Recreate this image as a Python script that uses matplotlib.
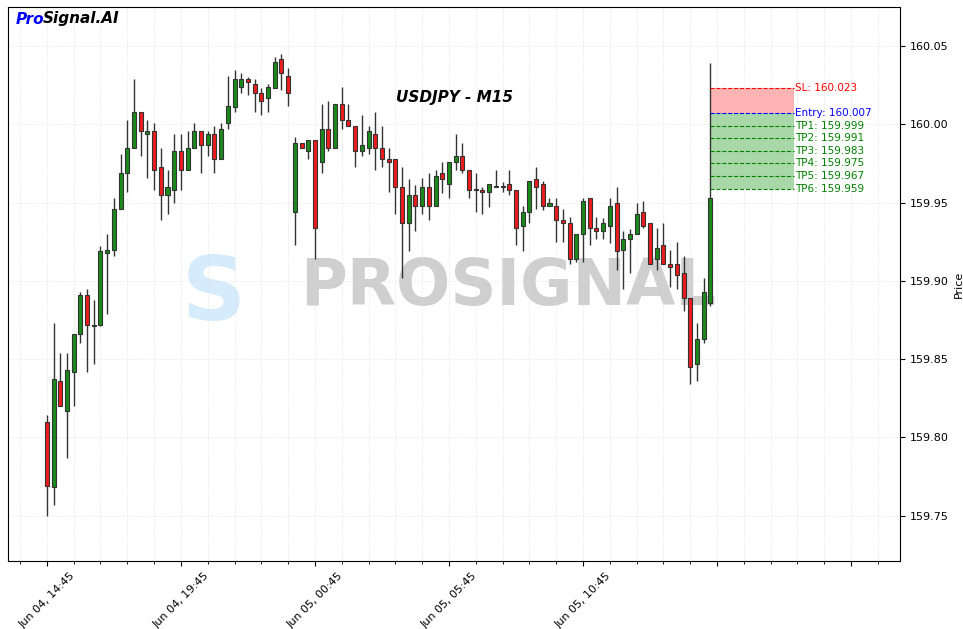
import matplotlib
matplotlib.use("Agg")
import matplotlib.pyplot as plt
from matplotlib.patches import Rectangle

opens = [159.810,159.768,159.836,159.817,159.842,159.866,159.891,159.872,159.872,159.918,
 159.920,159.946,159.969,159.985,160.008,159.994,159.996,159.973,159.955,159.958,
 159.983,159.971,159.985,159.996,159.987,159.994,159.978,160.001,160.011,160.024,
 160.029,160.026,160.020,160.017,160.023,160.042,160.031,159.944,159.988,159.983,
 159.990,159.976,159.997,159.985,160.013,160.003,159.999,159.983,159.985,159.994,
 159.985,159.978,159.978,159.960,159.937,159.955,159.948,159.960,159.948,159.969,
 159.962,159.976,159.980,159.971,159.959,159.958,159.957,159.960,159.960,159.962,
 159.958,159.935,159.944,159.965,159.962,159.948,159.948,159.939,159.937,159.914,
 159.930,159.953,159.934,159.932,159.935,159.950,159.920,159.927,159.930,159.944,
 159.937,159.914,159.923,159.911,159.911,159.905,159.889,159.847,159.863,159.886]
highs = [159.814,159.873,159.854,159.854,159.866,159.893,159.895,159.888,159.922,159.930,
 159.953,159.981,160.003,160.029,160.008,160.003,160.001,159.985,159.971,159.994,
 159.994,159.996,160.001,159.996,159.996,159.999,160.001,160.031,160.035,160.033,
 160.030,160.029,160.023,160.026,160.043,160.045,160.036,159.992,159.988,159.990,
 159.990,160.013,160.015,160.013,160.024,160.013,159.999,160.006,159.999,160.008,
 159.999,159.985,159.978,159.973,159.965,159.961,159.966,159.969,159.971,159.976,
 159.976,159.994,159.988,159.971,159.969,159.960,159.962,159.971,159.963,159.971,
 159.958,159.948,159.964,159.973,159.964,159.953,159.953,159.946,159.941,159.930,
 159.953,159.953,159.941,159.940,159.953,159.960,159.932,159.933,159.950,159.951,
 159.937,159.934,159.937,159.920,159.925,159.916,159.889,159.873,159.902,160.039]
lows = [159.750,159.757,159.820,159.787,159.820,159.860,159.842,159.847,159.871,159.879,
 159.916,159.946,159.957,159.985,159.980,159.966,159.958,159.939,159.943,159.950,
 159.958,159.971,159.985,159.969,159.980,159.969,159.978,159.997,160.008,160.020,
 160.019,160.008,160.006,160.008,160.023,160.022,160.012,159.923,159.985,159.978,
 159.914,159.969,159.983,159.985,159.997,159.999,159.973,159.980,159.981,159.971,
 159.973,159.957,159.943,159.902,159.919,159.932,159.943,159.939,159.948,159.956,
 159.953,159.971,159.969,159.953,159.944,159.943,159.947,159.960,159.957,159.955,
 159.923,159.919,159.937,159.946,159.945,159.948,159.925,159.925,159.911,159.912,
 159.912,159.923,159.927,159.927,159.924,159.907,159.895,159.905,159.930,159.934,
 159.911,159.907,159.911,159.896,159.895,159.881,159.834,159.836,159.860,159.884]
closes = [159.769,159.837,159.820,159.843,159.866,159.891,159.872,159.871,159.919,159.920,
 159.946,159.969,159.985,160.008,159.996,159.996,159.971,159.955,159.960,159.983,
 159.971,159.985,159.996,159.987,159.994,159.978,159.997,160.012,160.029,160.029,
 160.027,160.020,160.015,160.024,160.040,160.033,160.020,159.988,159.985,159.990,
 159.934,159.997,159.985,160.013,160.003,159.999,159.983,159.987,159.996,159.985,
 159.978,159.976,159.960,159.937,159.955,159.948,159.960,159.948,159.967,159.965,
 159.976,159.980,159.971,159.958,159.958,159.957,159.962,159.960,159.960,159.958,
 159.934,159.944,159.964,159.960,159.948,159.950,159.939,159.937,159.914,159.930,
 159.951,159.934,159.932,159.937,159.948,159.919,159.927,159.930,159.943,159.935,
 159.911,159.921,159.911,159.909,159.904,159.889,159.845,159.863,159.893,159.953]
tick_labels = ["Jun 04, 14:45", "Jun 04, 19:45", "Jun 05, 00:45", "Jun 05, 05:45", "Jun 05, 10:45", "", ""]
level_names = ["SL", "Entry", "TP1", "TP2", "TP3", "TP4", "TP5", "TP6"]
level_values = [160.023, 160.007, 159.999, 159.991, 159.983, 159.975, 159.967, 159.959]
level_colors = ["red", "blue", "green", "green", "green", "green", "green", "green"]

fig = plt.figure(figsize=(9.63, 6.29), dpi=100)
ax = fig.add_axes([8/963, 1-561/629, 892/963, 554/629])
ax.yaxis.tick_right()
ax.yaxis.set_label_position("right")

w = 0.6
for i, (o, h, l, c) in enumerate(zip(opens, highs, lows, closes)):
    col = "#1a8a1a" if c >= o else "#ee1c1c"
    ax.vlines(i, l, h, color="#333333", lw=1, zorder=2)
    ax.add_patch(Rectangle((i - w/2, min(o, c)), w, max(abs(c - o), 0.0004),
                           facecolor=col, edgecolor="#333333", lw=0.8, zorder=3))

n = len(opens)
x0, x1 = n - 1, n + 11.5
sl, entry, tp_last = level_values[0], level_values[1], level_values[-1]
ax.add_patch(Rectangle((x0, entry), x1 - x0, sl - entry, facecolor="#ffb3b3", edgecolor="none", zorder=1))
ax.add_patch(Rectangle((x0, tp_last), x1 - x0, entry - tp_last, facecolor="#a8d8a8", edgecolor="none", zorder=1))
for name, v, c in zip(level_names, level_values, level_colors):
    ax.hlines(v, x0, x1, colors=c, linestyles="--", lw=0.8, zorder=2)
    ax.text(x1 + 0.1, v, f"{name}: {v:.3f}", color=c, fontsize=7.5, va="center", ha="left", zorder=4)

ax.set_xlim(-5.8, 127.3)
ax.set_ylim(159.721, 160.075)
ax.set_xticks(range(0, 121, 20))
ax.set_xticklabels(tick_labels, rotation=45, ha="center", fontsize=8)
ax.set_xticks(range(-4, 127, 4), minor=True)
ax.set_yticks([159.75, 159.80, 159.85, 159.90, 159.95, 160.00, 160.05])
ax.set_yticklabels([f"{v:.2f}" for v in ax.get_yticks()], fontsize=8)
ax.set_ylabel("Price", fontsize=8)
ax.grid(True, which="both", color="#dddddd", ls="--", lw=0.5, alpha=0.6)
ax.set_axisbelow(True)

ax.text(0.5, 0.837, "USDJPY - M15", transform=ax.transAxes, ha="center", va="center",
        fontsize=11, fontweight="bold", fontstyle="italic")
fig.text(16/963, 1-19/629, "Pro", color="blue", fontsize=11, fontweight="bold", fontstyle="italic", va="center")
fig.text(43/963, 1-19/629, "Signal.AI", color="black", fontsize=11, fontweight="bold", fontstyle="italic", va="center")

ax.text(0.327, 0.495, "PROSIGNAL", transform=ax.transAxes, ha="left", va="center",
        fontsize=46, fontweight="bold", color="#b0b0b0", alpha=0.6, zorder=0)
ax.text(0.195, 0.48, "S", transform=ax.transAxes, ha="left", va="center",
        fontsize=64, fontweight="bold", color="#8cc8f5", alpha=0.35, zorder=0)

fig.savefig("out.png", dpi=100)
